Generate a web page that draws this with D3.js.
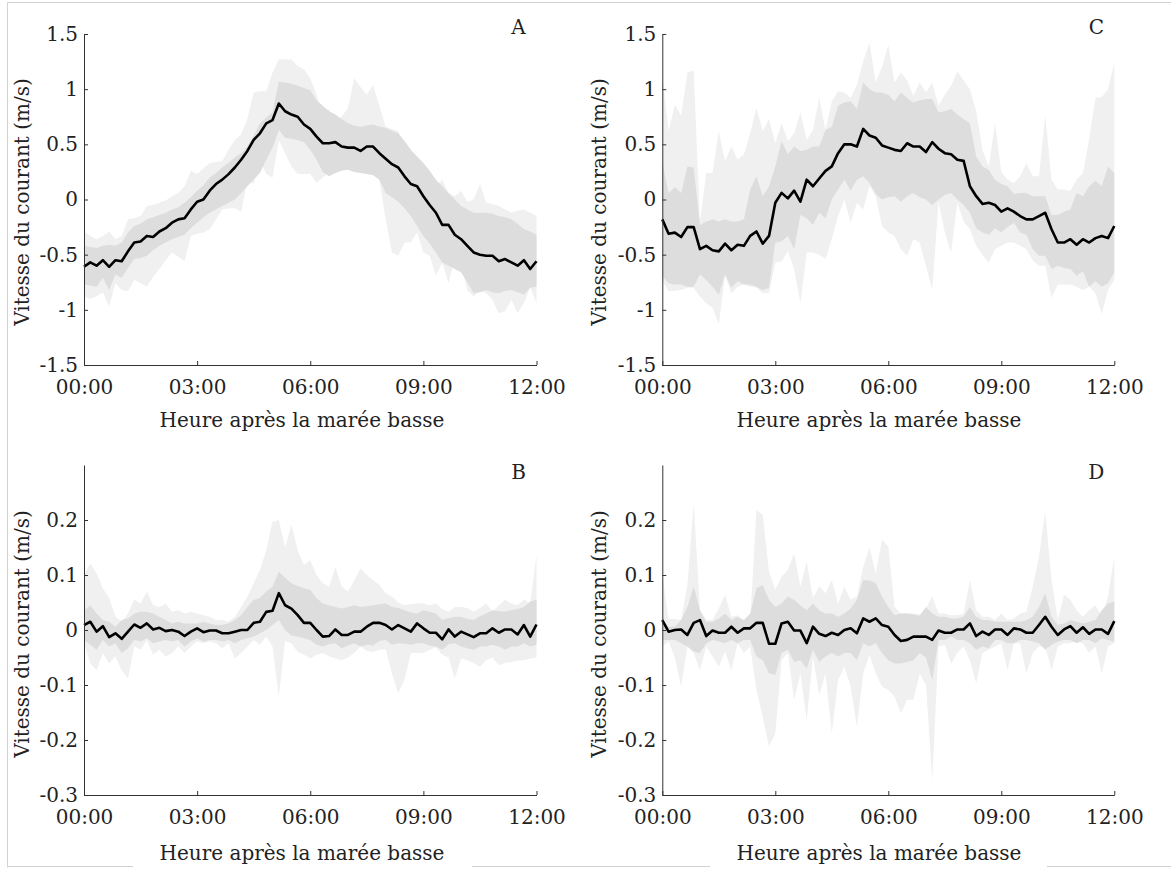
<!DOCTYPE html>
<html>
<head>
<meta charset="utf-8">
<script src="https://cdn.jsdelivr.net/npm/d3@7"></script>
<style>
  html, body { margin: 0; padding: 0; background: #fff; }
  svg { display: block; }
  text { font-family: "DejaVu Serif", "Liberation Serif", serif; fill: #222222; }
</style>
</head>
<body>
<svg id="chart" width="1171" height="869"></svg>
<script>
// Current speed (m/s) every 10 minutes from low tide (0 to 720 min), 73 samples.
const stepMinutes = 10;

// ---- Station A ----
const aMean = [
  -0.61,-0.57,-0.60,-0.55,-0.61,-0.55,-0.56,-0.47,-0.39,-0.38,
  -0.33,-0.34,-0.29,-0.26,-0.21,-0.18,-0.17,-0.09,-0.02,0.00,
  0.08,0.14,0.18,0.23,0.29,0.36,0.44,0.54,0.60,0.69,
  0.72,0.87,0.80,0.77,0.75,0.68,0.64,0.57,0.51,0.51,
  0.52,0.48,0.47,0.47,0.44,0.48,0.48,0.42,0.37,0.32,
  0.29,0.21,0.14,0.12,0.03,-0.05,-0.12,-0.23,-0.23,-0.32,
  -0.36,-0.42,-0.48,-0.50,-0.51,-0.51,-0.56,-0.54,-0.57,-0.60,
  -0.55,-0.63,-0.56];
const aInnerHigh = [
  -0.42,-0.43,-0.44,-0.42,-0.41,-0.42,-0.39,-0.30,-0.24,-0.22,
  -0.18,-0.16,-0.14,-0.12,-0.09,-0.07,-0.03,0.02,0.08,0.13,
  0.20,0.24,0.29,0.33,0.38,0.42,0.48,0.58,0.69,0.74,
  0.79,1.07,1.06,1.05,1.03,1.01,0.99,0.90,0.85,0.80,
  0.77,0.73,0.69,0.67,0.66,0.67,0.68,0.66,0.65,0.62,
  0.60,0.53,0.45,0.39,0.33,0.26,0.18,0.12,0.06,0.00,
  -0.06,-0.09,-0.12,-0.12,-0.12,-0.13,-0.15,-0.16,-0.18,-0.22,
  -0.27,-0.29,-0.32];
const aInnerLow = [
  -0.77,-0.78,-0.79,-0.71,-0.82,-0.68,-0.71,-0.62,-0.54,-0.53,
  -0.51,-0.46,-0.42,-0.39,-0.36,-0.34,-0.32,-0.26,-0.21,-0.16,
  -0.12,-0.09,-0.06,-0.03,0.00,0.06,0.12,0.18,0.24,0.36,
  0.47,0.63,0.56,0.55,0.54,0.52,0.45,0.36,0.25,0.21,
  0.24,0.26,0.27,0.25,0.24,0.23,0.22,0.18,0.06,0.02,
  -0.02,-0.08,-0.15,-0.24,-0.33,-0.40,-0.48,-0.57,-0.60,-0.63,
  -0.66,-0.75,-0.85,-0.84,-0.82,-0.84,-0.85,-0.83,-0.82,-0.84,
  -0.86,-0.80,-0.79];
const aOuterHigh = [
  -0.29,-0.33,-0.36,-0.33,-0.29,-0.36,-0.33,-0.18,-0.17,-0.15,
  -0.06,-0.05,-0.03,-0.01,0.03,0.06,0.12,0.26,0.23,0.28,
  0.33,0.34,0.35,0.45,0.54,0.59,0.73,0.97,0.98,0.98,
  1.15,1.27,1.27,1.27,1.21,1.18,1.10,0.95,0.73,0.82,
  0.66,0.75,0.83,1.10,1.02,0.95,1.04,0.85,0.66,0.64,
  0.62,0.48,0.33,0.28,0.21,0.16,0.11,0.18,0.06,0.03,
  0.08,-0.02,0.00,0.14,-0.03,-0.04,-0.06,-0.09,-0.12,-0.10,
  -0.09,-0.12,-0.15];
const aOuterLow = [
  -0.88,-0.90,-0.88,-0.84,-0.97,-0.76,-0.82,-0.83,-0.73,-0.76,
  -0.79,-0.70,-0.63,-0.55,-0.48,-0.52,-0.56,-0.33,-0.31,-0.30,
  -0.27,-0.18,-0.09,-0.08,-0.08,-0.11,0.18,0.14,0.36,0.23,
  0.20,0.54,0.42,0.30,0.23,0.23,0.23,0.15,0.20,0.24,
  0.26,0.27,0.29,0.30,0.30,0.30,0.30,0.18,-0.18,-0.48,
  -0.51,-0.39,-0.39,-0.30,-0.48,-0.51,-0.69,-0.57,-0.76,-0.54,
  -0.60,-0.82,-0.88,-0.82,-0.85,-0.91,-1.03,-1.01,-0.91,-1.03,
  -0.94,-0.79,-0.94];

// ---- Station C ----
const cMean = [
  -0.18,-0.31,-0.30,-0.34,-0.25,-0.25,-0.45,-0.42,-0.46,-0.47,
  -0.40,-0.46,-0.41,-0.42,-0.33,-0.29,-0.40,-0.33,-0.03,0.06,
  0.01,0.08,-0.02,0.18,0.12,0.19,0.26,0.30,0.42,0.50,
  0.50,0.48,0.64,0.58,0.56,0.49,0.47,0.45,0.44,0.51,
  0.48,0.48,0.43,0.52,0.46,0.42,0.41,0.36,0.35,0.12,
  0.03,-0.04,-0.03,-0.05,-0.11,-0.08,-0.11,-0.15,-0.18,-0.18,
  -0.15,-0.12,-0.27,-0.39,-0.39,-0.36,-0.41,-0.36,-0.39,-0.35,
  -0.33,-0.35,-0.24];
const cInnerHigh = [
  0.33,0.06,0.11,0.06,0.30,0.29,-0.23,-0.20,-0.18,-0.20,
  -0.18,-0.20,-0.20,-0.18,0.09,0.21,0.03,0.12,0.30,0.53,
  0.41,0.48,0.44,0.45,0.48,0.48,0.63,0.66,0.85,0.88,
  0.89,0.82,1.06,1.00,0.97,0.97,0.95,0.89,0.97,0.92,
  0.88,0.90,0.91,0.91,0.79,0.80,0.82,0.77,0.73,0.69,
  0.39,0.30,0.27,0.18,0.14,0.12,0.05,0.06,0.06,0.03,
  0.03,0.03,-0.14,-0.14,-0.11,-0.09,0.06,0.03,0.12,0.17,
  0.12,0.30,0.24];
const cInnerLow = [
  -0.69,-0.76,-0.77,-0.77,-0.79,-0.79,-0.68,-0.73,-0.79,-0.86,
  -0.68,-0.80,-0.74,-0.77,-0.77,-0.79,-0.82,-0.80,-0.39,-0.38,
  -0.33,-0.45,-0.14,-0.17,-0.23,-0.12,-0.17,0.00,0.09,0.18,
  0.08,0.18,0.21,0.15,0.05,0.00,0.02,0.03,-0.02,0.03,
  0.06,0.02,0.00,-0.05,0.00,0.04,0.06,0.00,-0.05,-0.12,
  -0.26,-0.30,-0.32,-0.26,-0.30,-0.25,-0.21,-0.30,-0.32,-0.45,
  -0.51,-0.51,-0.63,-0.60,-0.62,-0.63,-0.69,-0.65,-0.79,-0.74,
  -0.79,-0.76,-0.66];
const cOuterHigh = [
  1.12,0.62,0.86,0.76,1.15,1.17,-0.20,0.24,0.24,0.62,
  0.35,0.48,0.36,0.41,0.60,0.83,0.62,0.73,0.51,0.69,
  0.53,0.60,0.79,0.54,0.63,0.92,0.63,0.89,0.98,0.97,
  0.92,1.04,1.25,1.42,1.06,1.20,1.40,1.06,1.15,1.08,
  0.94,1.06,0.97,1.06,0.85,0.95,1.03,1.16,1.08,1.00,
  0.80,0.45,0.30,0.69,0.25,0.18,0.15,0.21,0.33,0.21,
  0.21,0.76,0.18,0.09,0.09,0.08,0.18,0.24,0.55,0.92,
  0.93,1.00,1.24];
const cOuterLow = [
  -0.74,-0.83,-0.83,-0.82,-0.80,-0.80,-0.88,-0.94,-0.98,-1.13,
  -0.69,-0.85,-0.79,-0.77,-0.79,-0.80,-0.85,-0.85,-0.57,-0.56,
  -0.47,-0.63,-0.94,-0.48,-0.48,-0.50,-0.54,-0.36,-0.15,0.00,
  -0.21,-0.03,-0.09,0.12,0.03,-0.24,-0.30,-0.33,-0.45,-0.51,
  -0.36,-0.39,-0.60,-0.82,-0.02,-0.30,-0.48,-0.03,-0.20,-0.27,
  -0.42,-0.50,-0.57,-0.45,-0.42,-0.39,-0.39,-0.42,-0.45,-0.55,
  -0.60,-0.60,-0.89,-0.77,-0.77,-0.77,-0.79,-0.82,-0.79,-0.85,
  -1.04,-0.82,-0.73];

// ---- Station B ----
const bMean = [
  0.009,0.015,-0.003,0.007,-0.013,-0.006,-0.016,-0.003,0.010,0.004,
  0.012,0.001,0.004,-0.002,0.000,-0.003,-0.011,-0.003,0.003,-0.004,
  -0.001,-0.001,-0.006,-0.006,-0.003,0.000,0.000,0.013,0.015,0.033,
  0.035,0.067,0.045,0.039,0.027,0.013,0.013,0.000,-0.012,-0.011,
  0.001,-0.009,-0.009,-0.003,-0.003,0.006,0.013,0.013,0.009,0.001,
  0.009,0.003,-0.003,0.012,0.003,-0.005,-0.005,-0.017,0.001,-0.012,
  -0.003,-0.008,-0.013,-0.006,-0.006,0.003,-0.005,0.001,0.001,-0.008,
  0.009,-0.012,0.010];
const bInnerHigh = [
  0.036,0.045,0.030,0.018,0.015,0.006,0.018,0.021,0.030,0.033,
  0.033,0.030,0.024,0.018,0.012,0.015,0.012,0.012,0.012,0.015,
  0.012,0.009,0.009,0.012,0.018,0.027,0.042,0.055,0.058,0.070,
  0.079,0.106,0.095,0.085,0.080,0.076,0.073,0.058,0.048,0.045,
  0.042,0.039,0.042,0.045,0.042,0.043,0.045,0.047,0.048,0.042,
  0.040,0.036,0.032,0.030,0.036,0.033,0.030,0.018,0.022,0.024,
  0.024,0.020,0.018,0.025,0.030,0.036,0.034,0.033,0.036,0.038,
  0.042,0.052,0.055];
const bInnerLow = [
  -0.018,-0.027,-0.036,-0.018,-0.030,-0.024,-0.042,-0.033,-0.018,-0.021,
  -0.015,-0.024,-0.021,-0.018,-0.021,-0.018,-0.030,-0.021,-0.015,-0.021,
  -0.018,-0.018,-0.021,-0.018,-0.024,-0.018,-0.015,-0.012,-0.006,0.000,
  0.009,0.018,0.000,-0.010,-0.012,-0.015,-0.018,-0.027,-0.030,-0.026,
  -0.024,-0.033,-0.028,-0.024,-0.030,-0.027,-0.028,-0.020,-0.018,-0.027,
  -0.024,-0.025,-0.027,-0.024,-0.024,-0.028,-0.030,-0.036,-0.026,-0.024,
  -0.030,-0.033,-0.036,-0.030,-0.030,-0.027,-0.030,-0.036,-0.030,-0.030,
  -0.024,-0.030,-0.027];
const bOuterHigh = [
  0.100,0.121,0.103,0.076,0.058,0.024,0.015,0.030,0.055,0.048,
  0.070,0.045,0.042,0.048,0.033,0.036,0.030,0.033,0.030,0.027,
  0.024,0.018,0.018,0.015,0.024,0.042,0.061,0.085,0.109,0.145,
  0.197,0.200,0.150,0.192,0.145,0.118,0.127,0.100,0.085,0.079,
  0.115,0.079,0.070,0.090,0.112,0.100,0.091,0.082,0.067,0.061,
  0.050,0.045,0.047,0.048,0.048,0.045,0.048,0.038,0.033,0.042,
  0.042,0.040,0.033,0.040,0.048,0.033,0.045,0.055,0.048,0.045,
  0.055,0.048,0.136];
const bOuterLow = [
  -0.024,-0.061,-0.073,-0.042,-0.061,-0.048,-0.073,-0.088,-0.030,-0.036,
  -0.018,-0.045,-0.036,-0.048,-0.042,-0.030,-0.042,-0.030,-0.021,-0.024,
  -0.021,-0.024,-0.033,-0.024,-0.052,-0.042,-0.030,-0.018,-0.027,-0.012,
  -0.030,-0.121,-0.020,-0.024,-0.040,-0.045,-0.052,-0.045,-0.042,-0.048,
  -0.052,-0.055,-0.050,-0.042,-0.030,-0.038,-0.040,-0.036,-0.035,-0.079,
  -0.115,-0.091,-0.042,-0.042,-0.042,-0.036,-0.032,-0.045,-0.050,-0.088,
  -0.052,-0.055,-0.060,-0.067,-0.055,-0.050,-0.064,-0.060,-0.058,-0.056,
  -0.055,-0.052,-0.050];

// ---- Station D ----
const dMean = [
  0.018,-0.003,0.000,0.001,-0.009,0.013,0.018,-0.011,-0.001,-0.005,
  -0.005,0.006,-0.005,0.003,0.003,0.013,0.013,-0.025,-0.025,0.012,
  0.015,-0.001,-0.001,-0.024,0.006,-0.007,-0.011,-0.005,-0.009,0.000,
  0.003,-0.006,0.021,0.015,0.021,0.009,0.006,-0.009,-0.020,-0.018,
  -0.012,-0.012,-0.012,-0.018,-0.001,-0.005,-0.005,0.001,0.001,0.012,
  -0.011,-0.003,-0.009,0.001,0.001,-0.009,0.003,0.001,-0.005,-0.005,
  0.009,0.024,0.006,-0.009,0.001,0.007,-0.005,0.005,-0.007,0.001,
  0.001,-0.007,0.016];
const dInnerHigh = [
  0.018,0.006,0.006,0.018,0.042,0.079,0.036,0.015,0.015,0.021,
  0.030,0.018,0.024,0.018,0.030,0.076,0.082,0.055,0.042,0.048,
  0.061,0.055,0.045,0.036,0.048,0.036,0.030,0.030,0.024,0.030,
  0.039,0.055,0.091,0.090,0.085,0.061,0.042,0.027,0.030,0.030,
  0.028,0.026,0.042,0.030,0.024,0.024,0.021,0.021,0.024,0.042,
  0.024,0.018,0.018,0.015,0.015,0.015,0.015,0.015,0.018,0.024,
  0.042,0.067,0.024,0.009,0.012,0.018,0.015,0.012,0.015,0.018,
  0.036,0.048,0.052];
const dInnerLow = [
  -0.018,-0.018,-0.018,-0.024,-0.030,-0.039,-0.042,-0.024,-0.018,-0.021,
  -0.024,-0.018,-0.024,-0.018,-0.018,-0.048,-0.055,-0.079,-0.082,-0.042,
  -0.036,-0.058,-0.055,-0.070,-0.036,-0.058,-0.048,-0.042,-0.048,-0.042,
  -0.042,-0.055,-0.024,-0.030,-0.024,-0.042,-0.055,-0.061,-0.061,-0.058,
  -0.055,-0.042,-0.050,-0.091,-0.018,-0.018,-0.012,-0.018,-0.018,-0.024,
  -0.036,-0.030,-0.033,-0.018,-0.018,-0.024,-0.024,-0.018,-0.018,-0.021,
  -0.024,-0.036,-0.027,-0.021,-0.018,-0.018,-0.024,-0.018,-0.018,-0.024,
  -0.015,-0.018,-0.021];
const dOuterHigh = [
  0.100,0.020,0.020,0.018,0.082,0.230,0.036,0.018,0.018,0.039,
  0.064,0.024,0.027,0.015,0.015,0.218,0.209,0.106,0.073,0.097,
  0.109,0.139,0.079,0.124,0.058,0.079,0.067,0.091,0.048,0.079,
  0.055,0.061,0.115,0.150,0.103,0.164,0.152,0.042,0.030,0.030,
  0.030,0.028,0.040,0.061,0.030,0.030,0.027,0.027,0.030,0.091,
  0.036,0.024,0.024,0.018,0.030,0.018,0.021,0.030,0.033,0.079,
  0.133,0.215,0.091,0.018,0.064,0.055,0.036,0.024,0.036,0.045,
  0.024,0.061,0.133];
const dOuterLow = [
  -0.030,-0.021,-0.050,-0.103,-0.030,-0.042,-0.073,-0.030,-0.048,-0.067,
  -0.039,-0.073,-0.024,-0.042,-0.030,-0.109,-0.158,-0.212,-0.188,-0.055,
  -0.042,-0.127,-0.079,-0.164,-0.048,-0.118,-0.079,-0.188,-0.091,-0.067,
  -0.103,-0.176,-0.079,-0.045,-0.079,-0.103,-0.109,-0.121,-0.152,-0.127,
  -0.127,-0.079,-0.100,-0.273,-0.030,-0.027,-0.061,-0.042,-0.030,-0.055,
  -0.097,-0.042,-0.036,-0.030,-0.024,-0.073,-0.024,-0.024,-0.079,-0.042,
  -0.030,-0.030,-0.073,-0.030,-0.024,-0.024,-0.021,-0.024,-0.042,-0.030,
  -0.079,-0.030,-0.024];

// ---- Axes ----
const xTicks = [0, 180, 360, 540, 720];
const xTickLabels = ["00:00", "03:00", "06:00", "09:00", "12:00"];
const yTicksTop = [-1.5, -1, -0.5, 0, 0.5, 1, 1.5];
const yTickLabelsTop = ["-1.5", "-1", "-0.5", "0", "0.5", "1", "1.5"];
const yTicksBottom = [-0.3, -0.2, -0.1, 0, 0.1, 0.2];
const yTickLabelsBottom = ["-0.3", "-0.2", "-0.1", "0", "0.1", "0.2"];
const xTitle = "Heure après la marée basse";
const yTitle = "Vitesse du courant (m/s)";

// ---- Layout ----
const colLeft = { x0: 84, x1: 536.5, titleX: 302, yTitleX: 22 };
const colRight = { x0: 662.3, x1: 1114.3, titleX: 879, yTitleX: 598.5 };
const rowTop = { y0: 34, y1: 365, domain: [-1.5, 1.5], ticks: yTicksTop, labels: yTickLabelsTop, yTitleY: 202, letterY: 27, xTitleY: 420 };
const rowBottom = { y0: 465, y1: 795, domain: [-0.3, 0.3], ticks: yTicksBottom, labels: yTickLabelsBottom, yTitleY: 634, letterY: 472, xTitleY: 853 };

const panels = [
  { letter: "A", col: colLeft,  row: rowTop,    mean: aMean, inHi: aInnerHigh, inLo: aInnerLow, outHi: aOuterHigh, outLo: aOuterLow },
  { letter: "C", col: colRight, row: rowTop,    mean: cMean, inHi: cInnerHigh, inLo: cInnerLow, outHi: cOuterHigh, outLo: cOuterLow },
  { letter: "B", col: colLeft,  row: rowBottom, mean: bMean, inHi: bInnerHigh, inLo: bInnerLow, outHi: bOuterHigh, outLo: bOuterLow },
  { letter: "D", col: colRight, row: rowBottom, mean: dMean, inHi: dInnerHigh, inLo: dInnerLow, outHi: dOuterHigh, outLo: dOuterLow }
];

const svg = d3.select("#chart");
const axisColor = "#333333";

// Light frame around the figure, interrupted behind the bottom titles
svg.append("path")
  .attr("d", "M7.5,867.5 V2.5 H1171 M7.5,866.5 H133 M472,866.5 H710 M1047,866.5 H1171")
  .attr("fill", "none")
  .attr("stroke", "#d2d2d2")
  .attr("stroke-width", 1);

panels.forEach(p => {
  const x = d3.scaleLinear().domain([0, 720]).range([p.col.x0, p.col.x1]);
  const y = d3.scaleLinear().domain(p.row.domain).range([p.row.y1, p.row.y0]);
  const t = (d, i) => x(i * stepMinutes);
  const g = svg.append("g");

  const outerArea = d3.area().x(t).y0((d, i) => y(p.outLo[i])).y1((d, i) => y(p.outHi[i]));
  const innerArea = d3.area().x(t).y0((d, i) => y(p.inLo[i])).y1((d, i) => y(p.inHi[i]));
  const meanLine = d3.line().x(t).y(d => y(d));

  g.append("path").datum(p.mean).attr("d", outerArea).attr("fill", "#f0f0f0");
  g.append("path").datum(p.mean).attr("d", innerArea).attr("fill", "#dddddd");
  g.append("path").datum(p.mean).attr("d", meanLine)
    .attr("fill", "none").attr("stroke", "#000").attr("stroke-width", 2.6)
    .attr("stroke-linejoin", "round");

  // x axis (ticks point inward)
  const gx = g.append("g")
    .attr("transform", `translate(0,${p.row.y1})`)
    .call(d3.axisBottom(x).tickValues(xTicks).tickFormat((d, i) => xTickLabels[i])
      .tickSizeInner(-4).tickSizeOuter(0).tickPadding(15))
    .attr("font-size", 20);
  gx.select(".domain").attr("stroke", axisColor);
  gx.selectAll(".tick line").attr("stroke", axisColor);

  // y axis
  const gy = g.append("g")
    .attr("transform", `translate(${p.col.x0},0)`)
    .call(d3.axisLeft(y).tickValues(p.row.ticks).tickFormat((d, i) => p.row.labels[i])
      .tickSizeInner(-4).tickSizeOuter(0).tickPadding(6))
    .attr("font-size", 20);
  gy.select(".domain").attr("stroke", axisColor);
  gy.selectAll(".tick line").attr("stroke", axisColor);

  // Titles
  g.append("text")
    .attr("x", p.col.titleX).attr("y", p.row.xTitleY)
    .attr("text-anchor", "middle").attr("dominant-baseline", "central")
    .attr("font-size", 20).text(xTitle);
  g.append("text")
    .attr("transform", `translate(${p.col.yTitleX},${p.row.yTitleY}) rotate(-90)`)
    .attr("text-anchor", "middle").attr("dominant-baseline", "central")
    .attr("font-size", 20).text(yTitle);
  g.append("text")
    .attr("x", p.col.x1 - 18).attr("y", p.row.letterY)
    .attr("text-anchor", "middle").attr("dominant-baseline", "central")
    .attr("font-size", 20).text(p.letter);
});
</script>
</body>
</html>
